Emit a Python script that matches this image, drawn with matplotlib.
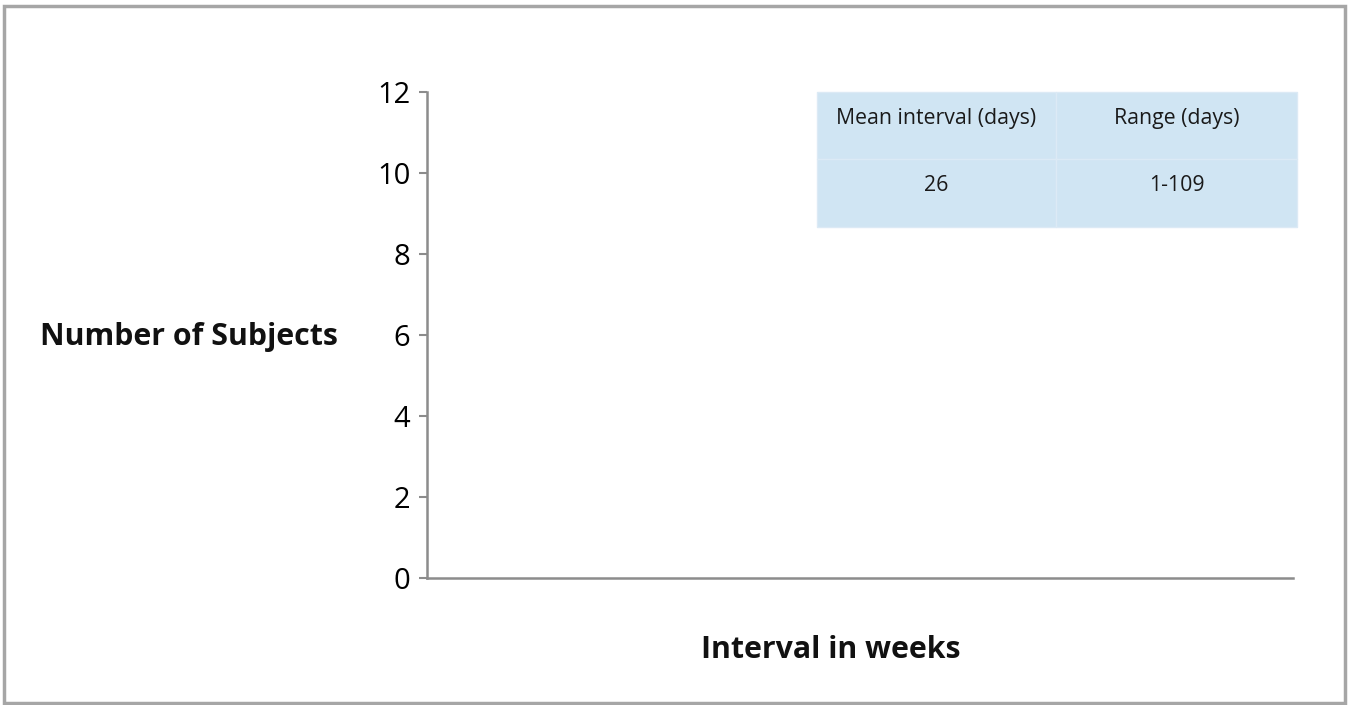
import matplotlib.pyplot as plt
from matplotlib.patches import Rectangle

# chart data (the reference histogram has no bars drawn)
interval_weeks = []
subject_counts = []
y_ticks = [0, 2, 4, 6, 8, 10, 12]

# summary table
table_header = ["Mean interval (days)", "Range (days)"]
table_values = ["26", "1-109"]

plt.rcParams['font.family'] = ['Open Sans', 'DejaVu Sans']

fig = plt.figure(figsize=(13.51, 7.05), dpi=100)
ax = fig.add_axes([427 / 1351, 1 - 578 / 705, (1293 - 427) / 1351, (578 - 92) / 705])

ax.bar(interval_weeks, subject_counts, color='#4f81bd')

ax.set_ylim(0, 12)
ax.set_xlim(0, 1)
ax.set_yticks(y_ticks)
ax.set_xticks([])
ax.tick_params(axis='y', length=6, width=1.5, color='#8c8c8c', labelsize=21, pad=6)
for s in ['top', 'right']:
    ax.spines[s].set_visible(False)
for s in ['left', 'bottom']:
    ax.spines[s].set_color('#8c8c8c')
    ax.spines[s].set_linewidth(1.8)

# table drawn in axes coords
x0, x1, xm = 0.450, 1.005, 0.726
y_top, y_mid, y_bot = 1.0, 0.862, 0.722
cols = [(x0, xm), (xm, x1)]
rows = [(y_mid, y_top, table_header), (y_bot, y_mid, table_values)]
for (lo, hi, texts) in rows:
    for (cl, cr), txt in zip(cols, texts):
        ax.add_patch(Rectangle((cl, lo), cr - cl, hi - lo, transform=ax.transAxes,
                               facecolor='#d0e5f3', edgecolor='#dceaf5', lw=1, clip_on=False))
        ax.text((cl + cr) / 2, hi - 0.054, txt, transform=ax.transAxes,
                ha='center', va='center', fontsize=15.3, color='#1a1a1a')

fig.text(40 / 1351, 1 - 337 / 705, "Number of Subjects", ha='left', va='center',
         fontsize=21.8, fontweight='bold', color='#111111')
fig.text(831 / 1351, 1 - 650 / 705, "Interval in weeks", ha='center', va='center',
         fontsize=21.8, fontweight='bold', color='#111111')

# outer frame
fig.add_artist(Rectangle((4 / 1351, 2 / 705), 1341 / 1351, 697 / 705, transform=fig.transFigure,
                         fill=False, edgecolor='#a6a6a6', lw=2.5))

fig.savefig('out.png', dpi=100)
